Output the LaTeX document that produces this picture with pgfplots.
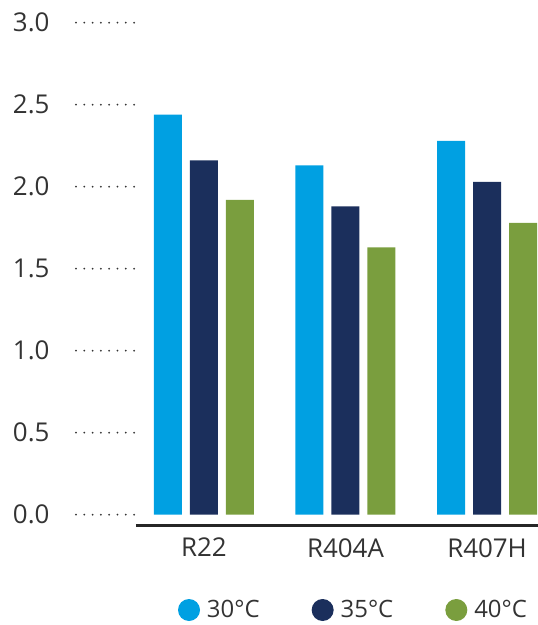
\documentclass[border=0pt]{standalone}
\usepackage{pgfplots}
\pgfplotsset{compat=1.18}
\usepackage{fontspec}
\setmainfont{Open Sans}
\definecolor{c30}{HTML}{00A0E2}
\definecolor{c35}{HTML}{1B2F5C}
\definecolor{c40}{HTML}{7A9E3E}
\definecolor{txt}{HTML}{333333}
\begin{document}
\begin{tikzpicture}
\begin{axis}[name=ax, scale only axis, width=402bp, height=503bp,
  xmin=-0.48, xmax=2.36, ymin=-0.067, ymax=3,
  axis x line=bottom, axis y line=left,
  x axis line style={-, draw=black!85, line width=2.5bp},
  y axis line style={draw=none},
  xtick={0,1,2}, xticklabels={R22,R404A,R407H},
  xtick style={draw=none},
  ytick={0,0.5,...,3},
  yticklabel={\pgfmathprintnumber[fixed,fixed zerofill,precision=1]{\tick}},
  /pgf/number format/assume math mode=true,
  tick align=outside, major tick length=60bp,
  ytick style={draw=txt, line width=2bp, line cap=round, dash pattern=on 0pt off 8.3bp},
  ticklabel style={font=\fontsize{26}{30}\selectfont, text=txt},
  yticklabel style={xshift=-23bp},
  xticklabel style={yshift=51bp},
  legend style={draw=none, fill=none, at={(0.541,-0.1676)}, anchor=center,
    font=\fontsize{24}{28}\selectfont, text=txt,
    /tikz/every even column/.append style={column sep=50bp}},
  legend columns=3,
  legend image code/.code={\fill[#1] (0bp,0bp) circle (11bp); \path (-11bp,0bp) (16bp,0bp);},
]
\addplot[ybar, fill=c30, draw=none, bar width=28bp, bar shift=-36bp] coordinates {(0,2.44) (1,2.13) (2,2.28)};
\addlegendentry{30°C}
\addplot[ybar, fill=c35, draw=none, bar width=28bp, bar shift=0bp] coordinates {(0,2.16) (1,1.88) (2,2.03)};
\addlegendentry{35°C}
\addplot[ybar, fill=c40, draw=none, bar width=28bp, bar shift=36bp] coordinates {(0,1.92) (1,1.63) (2,1.78)};
\addlegendentry{40°C}
\end{axis}
\pgfresetboundingbox
\path ([xshift=-136bp,yshift=-99.3bp]ax.south west) rectangle ([yshift=22.7bp]ax.north east);
\end{tikzpicture}
\end{document}
